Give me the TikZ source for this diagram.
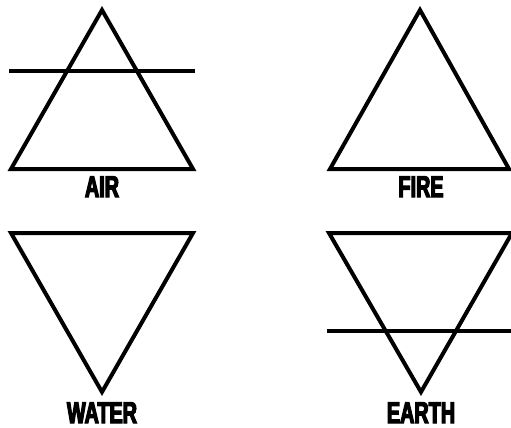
\documentclass[tikz,border=0pt]{standalone}
\usepackage{fontspec}
\setmainfont{Liberation Sans}
\newfontfamily\labfont[FakeStretch=0.66,FakeBold=4]{Liberation Sans}
\begin{document}
\begin{tikzpicture}[x=1pt,y=-1pt,
  sym/.style={line width=4pt,line join=miter,line cap=butt},
  lab/.style={font=\labfont\bfseries\fontsize{30}{30}\selectfont,anchor=base,inner sep=0pt}]
\useasboundingbox (0,0) rectangle (511,428);
% AIR
\coordinate (a1) at (102,10); \coordinate (a2) at (11,169); \coordinate (a3) at (193,169);
\draw[sym] (a1) -- (a2) -- (a3) -- cycle;
\coordinate (al1) at (9,71); \coordinate (al2) at (195,71);
\draw[sym] (al1) -- (al2);
\node[lab] (air) at (102,197) {AIR};
% FIRE
\coordinate (f1) at (420,10); \coordinate (f2) at (330,169); \coordinate (f3) at (509,169);
\draw[sym] (f1) -- (f2) -- (f3) -- cycle;
\node[lab] (fire) at (421,197) {FIRE};
% WATER
\coordinate (w1) at (102,392); \coordinate (w2) at (11,233); \coordinate (w3) at (193,233);
\draw[sym] (w1) -- (w2) -- (w3) -- cycle;
\node[lab] (water) at (102,423) {WATER};
% EARTH
\coordinate (e1) at (421,392); \coordinate (e2) at (329,233); \coordinate (e3) at (512,233);
\draw[sym] (e1) -- (e2) -- (e3) -- cycle;
\coordinate (el1) at (327,331); \coordinate (el2) at (511,331);
\draw[sym] (el1) -- (el2);
\node[lab] (earth) at (421,423) {EARTH};
\end{tikzpicture}
\end{document}
